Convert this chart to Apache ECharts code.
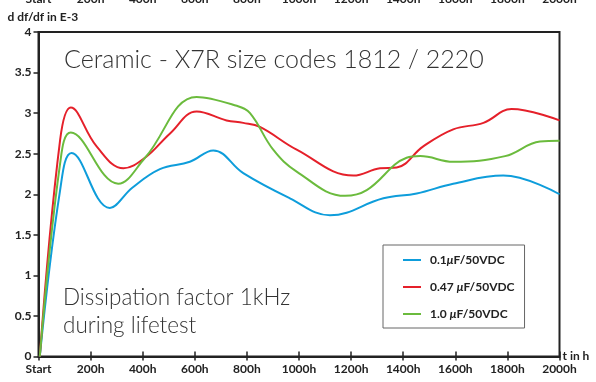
<!DOCTYPE html>
<html><head><meta charset="utf-8">
<script src="https://cdn.jsdelivr.net/npm/echarts@6/dist/echarts.min.js"></script>
<style>html,body{margin:0;padding:0;background:#fff}#c{width:596px;height:382px}</style>
</head><body><div id="c"></div>
<script>
const xTickLabels = ['Start','200h','400h','600h','800h','1000h','1200h','1400h','1600h','1800h','2000h'];
const seriesNames = ['0.1{i|\u03bc}F/50VDC','0.47 {i|\u03bc}F/50VDC','1.0 {i|\u03bc}F/50VDC'];
const legendNames = ['0.1\u03bcF/50VDC','0.47 \u03bcF/50VDC','1.0 \u03bcF/50VDC'];
const blue = [[5,0],[83,2.05],[127,2.51],[274,1.83],[360,2.08],[466,2.31],[581,2.40],[671,2.54],[786,2.26],[965,1.95],[1119,1.74],[1324,1.95],[1452,2.01],[1592,2.13],[1784,2.23],[2000,2.0]];
const red = [[5,0],[83,2.67],[124,3.07],[223,2.59],[326,2.32],[409,2.45],[505,2.75],[607,3.02],[722,2.91],[786,2.88],[850,2.83],[991,2.55],[1209,2.23],[1311,2.32],[1375,2.33],[1477,2.59],[1592,2.80],[1708,2.88],[1816,3.05],[2000,2.91]];
const green = [[5,0],[83,2.38],[124,2.76],[306,2.13],[409,2.45],[607,3.20],[761,3.09],[812,3.0],[901,2.55],[991,2.28],[1177,1.98],[1260,2.05],[1413,2.45],[1465,2.47],[1592,2.40],[1791,2.47],[1925,2.65],[2000,2.66]];
const colors = ['#0e9ddb','#e5202a','#6bbb3d'];
const F = 'Lato, "DejaVu Sans", sans-serif';
const chart = echarts.init(document.getElementById('c'), null, {renderer:'canvas'});
const lbl = v => xTickLabels[Math.round(v/200)] || '';
const mk = (name, data, col) => ({
  name, type:'line', data, smooth:0.4, symbol:'none',
  lineStyle:{color:col, width:2}, itemStyle:{color:col}, xAxisIndex:0, yAxisIndex:0
});
chart.setOption({
  animation:false,
  grid:{left:38.5, right:36.5, top:32, bottom:25.5, show:true, borderColor:'#222', borderWidth:2, outerBoundsMode:'none', containLabel:false},
  xAxis:[
    {type:'value', min:0, max:2000, interval:200, position:'bottom',
     axisLine:{lineStyle:{color:'#222', width:2}}, axisTick:{length:4, lineStyle:{color:'#222', width:1.5}},
     splitLine:{show:false}, axisLabel:{formatter:lbl, color:'#222', fontWeight:'bold', fontSize:12, fontFamily:F, margin:7},
     name:'t in h', nameLocation:'end', nameGap:3, nameTextStyle:{color:'#222', fontWeight:'bold', fontSize:12, fontFamily:F, align:'left', verticalAlign:'middle'}},
    {type:'value', min:0, max:2000, interval:200, position:'bottom', axisLine:{show:false},
     axisTick:{inside:true, length:5, lineStyle:{color:'#222', width:1.5}}, axisLabel:{show:false}, splitLine:{show:false}},
    {type:'value', min:0, max:2000, interval:200, position:'top', offset:0, axisLine:{show:false}, axisTick:{show:false},
     splitLine:{show:false}, axisLabel:{formatter:lbl, color:'#222', fontWeight:'bold', fontSize:12, fontFamily:F, margin:27}}
  ],
  yAxis:{type:'value', min:0, max:4, interval:0.5,
    axisLine:{show:true, lineStyle:{color:'#222', width:2}}, axisTick:{show:true, length:5, lineStyle:{color:'#222', width:1.5}},
    splitLine:{show:false}, axisLabel:{color:'#222', fontWeight:'bold', fontSize:12, fontFamily:F, margin:7},
    name:'d df/df in E-3', nameLocation:'end', nameGap:9,
    nameTextStyle:{color:'#222', fontWeight:'bold', fontSize:12, fontFamily:F, align:'left', padding:[0,0,0,-31]}},
  legend:{orient:'vertical', left:383, top:245, width:162, padding:[9,10,8,20], itemGap:15,
    borderColor:'#666', borderWidth:1, backgroundColor:'#fff', itemWidth:18, itemHeight:2, icon:'rect',
    data:legendNames,
    formatter: n => seriesNames[legendNames.indexOf(n)],
    textStyle:{color:'#222', fontWeight:'bold', fontSize:12, fontFamily:F, padding:[0,0,0,4],
      rich:{i:{fontStyle:'italic', fontWeight:'bold', fontSize:12, fontFamily:F, color:'#222'}}}},
  graphic:[
    {type:'text', left:64, top:47, style:{text:'Ceramic - X7R size codes 1812 / 2220', fill:'#333', font:'300 25px Lato, sans-serif'}},
    {type:'text', left:63, top:284, style:{text:'Dissipation factor 1kHz\nduring lifetest', fill:'#333', font:'300 22.5px Lato, sans-serif', lineHeight:28}}
  ],
  series:[mk(legendNames[0], blue, colors[0]), mk(legendNames[1], red, colors[1]), mk(legendNames[2], green, colors[2])]
});
</script></body></html>
